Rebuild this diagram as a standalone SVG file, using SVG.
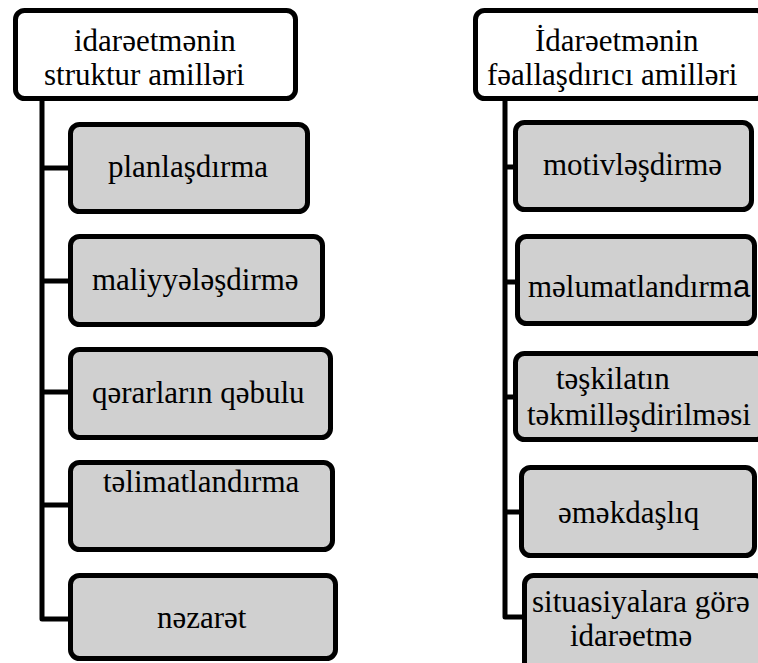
<svg xmlns="http://www.w3.org/2000/svg" width="758" height="663" viewBox="0 0 758 663">
  <style>
    .head { fill: #ffffff; stroke: #000000; stroke-width: 5; }
    .item { fill: #d0d0d0; stroke: #000000; stroke-width: 5; }
    .wire { fill: none; stroke: #000000; stroke-width: 5; stroke-linejoin: round; }
    .lbl { font-family: 'Liberation Serif', 'Times New Roman', serif; font-size: 31px; fill: #000000; }
    .sans { font-family: 'Liberation Sans', Arial, sans-serif; }
  </style>
  <rect width="758" height="663" fill="#ffffff"/>

  <!-- connectors: trunk lines with branches to each item box -->
  <g id="connectors">
    <path class="wire" d="M42 101 V619 H68 M42 168 H68 M42 281 H68 M42 392 H68 M42 505 H68"/>
    <path class="wire" d="M505 101 V617 H522 M505 167 H513 M505 282 H515 M505 397 H513 M505 512 H519"/>
  </g>

  <!-- left column -->
  <g id="head-left">
    <rect class="head" x="15.5" y="10.5" width="280" height="88" rx="9"/>
    <text class="lbl" x="74" y="51">idarəetmənin</text>
    <text class="lbl" x="44" y="85">struktur amilləri</text>
  </g>
  <g id="planlasdirma">
    <rect class="item" x="70.5" y="124.5" width="237" height="87" rx="9"/>
    <text class="lbl" x="108" y="177">planlaşdırma</text>
  </g>
  <g id="maliyyelesdirme">
    <rect class="item" x="70.5" y="236.5" width="252" height="88" rx="9"/>
    <text class="lbl" x="92" y="290">maliyyələşdirmə</text>
  </g>
  <g id="qerarlarin-qebulu">
    <rect class="item" x="70.5" y="349.5" width="260" height="88" rx="9"/>
    <text class="lbl" x="92" y="403">qərarların qəbulu</text>
  </g>
  <g id="telimatlandirma">
    <rect class="item" x="70.5" y="462.5" width="262" height="87" rx="9"/>
    <text class="lbl" x="103" y="492">təlimatlandırma</text>
  </g>
  <g id="nezaret">
    <rect class="item" x="70.5" y="575.5" width="265" height="83" rx="9"/>
    <text class="lbl" x="157" y="628">nəzarət</text>
  </g>

  <!-- right column -->
  <g id="head-right">
    <rect class="head" x="475.5" y="10.5" width="290" height="88" rx="9"/>
    <text class="lbl" x="535" y="51">İdarəetmənin</text>
    <text class="lbl" x="487" y="85">fəallaşdırıcı amilləri</text>
  </g>
  <g id="motivlesdirme">
    <rect class="item" x="515.5" y="122.5" width="236" height="87" rx="9"/>
    <text class="lbl" x="543" y="175">motivləşdirmə</text>
  </g>
  <g id="melumatlandirma">
    <rect class="item" x="517.5" y="236.5" width="237" height="87" rx="9"/>
    <text class="lbl" x="528" y="297">məlumatlandırm<tspan class="sans">a</tspan></text>
  </g>
  <g id="teskilatin-tekmillesdirilmesi">
    <rect class="item" x="515.5" y="353.5" width="250" height="86" rx="9"/>
    <text class="lbl" x="556" y="389">təşkilatın</text>
    <text class="lbl" x="527" y="425">təkmilləşdirilməsi</text>
  </g>
  <g id="emekdasliq">
    <rect class="item" x="521.5" y="467.5" width="233" height="88" rx="9"/>
    <text class="lbl" x="558" y="523">əməkdaşlıq</text>
  </g>
  <g id="situasiyalara-gore">
    <rect class="item" x="524.5" y="575.5" width="240" height="100" rx="9"/>
    <text class="lbl" x="532" y="612">situasiyalara görə</text>
    <text class="lbl" x="570" y="646">idarəetmə</text>
  </g>
</svg>
